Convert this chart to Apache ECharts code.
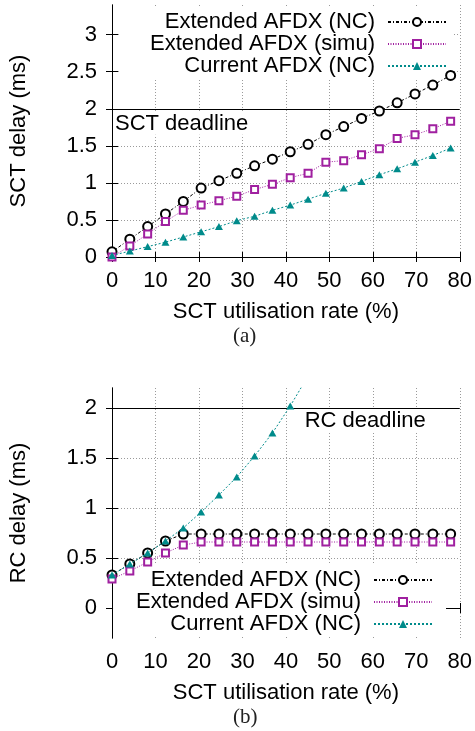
<!DOCTYPE html>
<html>
<head>
  <meta charset="UTF-8">
  <title>AFDX delay</title>
  <script src="https://cdn.jsdelivr.net/npm/echarts@6/dist/echarts.min.js"></script>
  <style>
    html, body { margin: 0; padding: 0; background: #fff; }
  </style>
</head>
<body>
  <div id="chart" style="width: 475px; height: 731px;"></div>

  <script>
    // utilisation rate (%) shared by both plots
    const utilRate = [0, 4.1, 8.2, 12.3, 16.4, 20.5, 24.6, 28.7, 32.8, 36.9,
                      41, 45.1, 49.2, 53.3, 57.4, 61.5, 65.6, 69.7, 73.8, 77.9];

    const seriesNames = ['Extended AFDX (NC)', 'Extended AFDX (simu)', 'Current AFDX (NC)'];

    // (a) SCT delay (ms)
    const sctExtNC   = [0.07, 0.24, 0.41, 0.58, 0.75, 0.93, 1.03, 1.13, 1.23, 1.32,
                        1.42, 1.52, 1.65, 1.76, 1.87, 1.97, 2.08, 2.2, 2.32, 2.45];
    const sctExtSimu = [0.0, 0.15, 0.31, 0.48, 0.63, 0.7, 0.76, 0.82, 0.91, 0.98,
                        1.07, 1.13, 1.28, 1.3, 1.38, 1.46, 1.6, 1.65, 1.73, 1.83];
    const sctCurNC   = [0.02, 0.08, 0.14, 0.2, 0.27, 0.34, 0.41, 0.49, 0.55, 0.63,
                        0.7, 0.78, 0.86, 0.93, 1.02, 1.11, 1.19, 1.28, 1.37, 1.47];

    // (b) RC delay (ms)
    const rcExtNC   = [0.33, 0.44, 0.55, 0.67, 0.74, 0.74, 0.74, 0.74, 0.74, 0.74,
                       0.74, 0.74, 0.74, 0.74, 0.74, 0.74, 0.74, 0.74, 0.74, 0.74];
    const rcExtSimu = [0.29, 0.37, 0.46, 0.55, 0.63, 0.66, 0.66, 0.66, 0.66, 0.66,
                       0.66, 0.66, 0.66, 0.66, 0.66, 0.66, 0.66, 0.66, 0.66, 0.66];
    const rcCurNC   = [0.33, 0.44, 0.55, 0.67, 0.8, 0.96, 1.13, 1.31, 1.52, 1.75,
                       2.02, 2.32];

    const sctDeadline = 2;
    const rcDeadline = 2;
    const yTicks = [0, 0.5, 1, 1.5, 2, 2.5, 3];
    const yTicksRC = [0, 0.5, 1, 1.5, 2];

    const FONT = 'Liberation Sans';
    const colors = ['#000000', '#a020a0', '#008b8b'];
    const dashes = [[3, 2, 1, 2], [1, 1.5], [2, 2]];
    const symbols = ['emptyCircle', 'emptyRect', 'triangle'];
    const symbolSizes = [9, 7, [8, 7]];

    function pairs(ys) {
      return ys.map((y, i) => [utilRate[i], y]);
    }

    function xAxes(gridIndex) {
      const base = {
        type: 'value', gridIndex: gridIndex, min: 0, max: 80, interval: 10,
        axisLine: { lineStyle: { color: '#000', width: 1 } },
        axisTick: { inside: true, length: 5, lineStyle: { color: '#000' } }
      };
      return [
        Object.assign({}, base, {
          position: 'bottom',
          name: 'SCT utilisation rate (%)', nameLocation: 'middle', nameGap: 44,
          nameTextStyle: { fontFamily: FONT, fontSize: 22, color: '#000' },
          axisLabel: { fontFamily: FONT, fontSize: 22, color: '#000', margin: 13 },
          splitLine: { show: true, lineStyle: { color: '#9a9a9a', type: [1, 2], width: 1 } }
        }),
        Object.assign({}, base, {
          position: 'top', axisLabel: { show: false }, splitLine: { show: false }
        })
      ];
    }

    function yAxes(gridIndex, min, max, ticks, name) {
      const base = {
        type: 'value', gridIndex: gridIndex, min: min, max: max,
        axisLine: { show: true, lineStyle: { color: '#000', width: 1 } },
        axisTick: { inside: true, length: 6, customValues: ticks, lineStyle: { color: '#000' } }
      };
      return [
        Object.assign({}, base, {
          position: 'left',
          name: name, nameLocation: 'middle', nameGap: 82,
          nameTextStyle: { fontFamily: FONT, fontSize: 22, color: '#000' },
          axisLabel: { fontFamily: FONT, fontSize: 22, color: '#000', margin: 15, customValues: ticks },
          splitLine: { show: true, lineStyle: { color: '#9a9a9a', type: [1, 2], width: 1 } }
        }),
        Object.assign({}, base, {
          position: 'right', axisLabel: { show: false }, splitLine: { show: false }
        })
      ];
    }

    function deadline(value, text, position, distance) {
      return {
        silent: true,
        symbol: ['none', 'none'],
        lineStyle: { color: '#000', type: 'solid', width: 1.2 },
        label: {
          show: true, formatter: text, position: position, distance: distance,
          fontFamily: FONT, fontSize: 22, color: '#000', backgroundColor: '#fff',
          padding: [1, 2, 0, 2]
        },
        data: [{ yAxis: value }]
      };
    }

    function makeSeries(values, k, axisIdx, markLine) {
      const s = {
        name: seriesNames[k],
        type: 'line',
        xAxisIndex: axisIdx, yAxisIndex: axisIdx,
        data: pairs(values),
        symbol: symbols[k],
        symbolSize: symbolSizes[k],
        showAllSymbol: true,
        clip: true,
        itemStyle: { color: colors[k], borderWidth: k === 2 ? 0 : 1.1 },
        lineStyle: { color: colors[k], width: 1, type: dashes[k] },
        z: 5 + k
      };
      if (markLine) s.markLine = markLine;
      return s;
    }

    function legendFor(top, right, padding, lineHeight) {
      return {
        orient: 'vertical', align: 'right',
        top: top, right: right, padding: padding,
        backgroundColor: '#fff',
        itemWidth: 58, itemHeight: 10, itemGap: 0,
        selectedMode: false,
        data: seriesNames,
        formatter: name => '{t|' + name + '}',
        textStyle: {
          fontFamily: FONT, fontSize: 22, color: '#000',
          rich: { t: { fontFamily: FONT, fontSize: 22, lineHeight: lineHeight, padding: [0, 8, 0, 0] } }
        }
      };
    }

    const chart = echarts.init(document.getElementById('chart'), null, { renderer: 'canvas' });

    const option = {
      animation: false,
      backgroundColor: '#fff',
      title: [
        { text: '(a)', left: 233, top: 326, padding: 0,
          textStyle: { fontFamily: 'Liberation Serif', fontSize: 21, fontWeight: 'normal', color: '#222' } },
        { text: '(b)', left: 233, top: 707, padding: 0,
          textStyle: { fontFamily: 'Liberation Serif', fontSize: 21, fontWeight: 'normal', color: '#222' } }
      ],
      legend: [
        legendFor(6, 23, [5, 5, 1, 30], 21.5),
        legendFor(565, 29, [4, 13, 0, 23], 21)
      ],
      grid: [
        { left: 109, width: 351, top: 5, height: 252, containLabel: false },
        { left: 109, width: 351, top: 388, height: 250, containLabel: false }
      ],
      xAxis: xAxes(0).concat(xAxes(1)),
      yAxis: yAxes(0, 0, 3.4, yTicks, 'SCT delay (ms)').concat(yAxes(1, -0.3, 2.2, yTicksRC, 'RC delay (ms)')),
      series: [
        makeSeries(sctExtNC, 0, 0, deadline(sctDeadline, 'SCT deadline', 'insideStartBottom', [1, 3])),
        makeSeries(sctExtSimu, 1, 0),
        makeSeries(sctCurNC, 2, 0),
        makeSeries(rcExtNC, 0, 2, deadline(rcDeadline, 'RC deadline', 'insideEndBottom', [32, 1])),
        makeSeries(rcExtSimu, 1, 2),
        makeSeries(rcCurNC, 2, 2)
      ]
    };

    chart.setOption(option);
  </script>
</body>
</html>
